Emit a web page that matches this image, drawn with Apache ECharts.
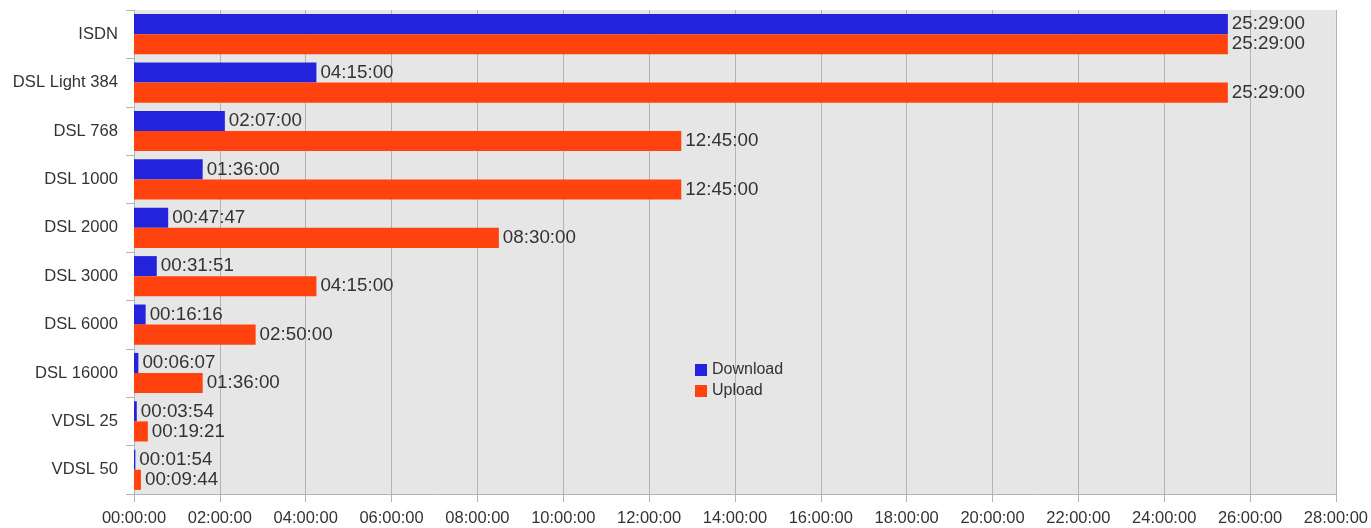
<!DOCTYPE html>
<html><head><meta charset="utf-8">
<script src="https://cdn.jsdelivr.net/npm/echarts@6/dist/echarts.min.js"></script>
<style>html,body{margin:0;padding:0;background:#fff}#c{width:1371px;height:528px}</style>
</head><body><div id="c"></div>
<script>
const categories = ['ISDN','DSL Light 384','DSL 768','DSL 1000','DSL 2000','DSL 3000','DSL 6000','DSL 16000','VDSL 25','VDSL 50'];
const downloadTimes = ['25:29:00','04:15:00','02:07:00','01:36:00','00:47:47','00:31:51','00:16:16','00:06:07','00:03:54','00:01:54'];
const uploadTimes = ['25:29:00','25:29:00','12:45:00','12:45:00','08:30:00','04:15:00','02:50:00','01:36:00','00:19:21','00:09:44'];

function toSec(s){const p=s.split(':').map(Number);return p[0]*3600+p[1]*60+p[2];}
function fmt(v){const h=Math.floor(v/3600),m=Math.floor((v%3600)/60),s=Math.round(v%60);
  const z=n=>String(n).padStart(2,'0');return z(h)+':'+z(m)+':'+z(s);}
const downloadSec = downloadTimes.map(toSec);
const uploadSec = uploadTimes.map(toSec);

const chart = echarts.init(document.getElementById('c'));
const lbl = {show:true, position:'right', distance:4, color:'#333', fontSize:18.8, fontFamily:'Liberation Sans', formatter:p=>fmt(p.value)};
chart.setOption({
  animation:false,
  textStyle:{fontFamily:'Liberation Sans'},
  grid:{left:134, right:35, top:10, bottom:34, show:true, backgroundColor:'#e6e6e6', borderWidth:0},
  legend:{left:690, top:357, orient:'vertical', itemWidth:12, itemHeight:12, itemGap:5, icon:'rect',
    textStyle:{fontSize:16, color:'#333', padding:[0,0,0,0]}, data:['Download','Upload']},
  xAxis:{type:'value', min:0, max:28*3600, interval:7200,
    axisLine:{show:true, lineStyle:{color:'#b3b3b3'}},
    axisTick:{show:true, length:8, lineStyle:{color:'#b3b3b3'}},
    splitLine:{show:true, lineStyle:{color:'#b3b3b3', width:1}},
    axisLabel:{color:'#333', fontSize:16.5, margin:16, formatter:v=>fmt(v)}},
  yAxis:{type:'category', data:categories, inverse:true,
    axisLine:{show:true, lineStyle:{color:'#b3b3b3'}},
    axisTick:{show:true, length:8, lineStyle:{color:'#b3b3b3'}},
    axisLabel:{color:'#333', fontSize:16.6, margin:16}},
  series:[
    {name:'Download', type:'bar', data:downloadSec, itemStyle:{color:'#2323dc'}, barGap:'0%', barCategoryGap:'17%', label:lbl},
    {name:'Upload', type:'bar', data:uploadSec, itemStyle:{color:'#ff420e'}, barGap:'0%', barCategoryGap:'17%', label:lbl}
  ]
});
</script></body></html>
